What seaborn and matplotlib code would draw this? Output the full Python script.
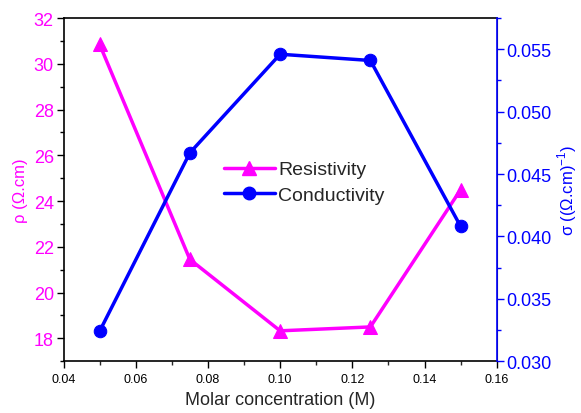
import numpy as np
import pandas as pd
import seaborn as sns
import matplotlib.pyplot as plt
from matplotlib.ticker import MultipleLocator
from matplotlib.lines import Line2D

molarity = [0.05, 0.075, 0.10, 0.125, 0.15]
resistivity = [30.85, 21.45, 18.33, 18.5, 24.5]
conductivity = [0.0324, 0.0467, 0.0546, 0.0541, 0.0408]

data = pd.DataFrame({'M': molarity, 'rho': resistivity, 'sigma': conductivity})

sns.set_style('ticks')
plt.rcParams['font.family'] = ['Liberation Sans', 'DejaVu Sans']
plt.rcParams['mathtext.fontset'] = 'custom'
plt.rcParams['mathtext.rm'] = 'Liberation Sans'

pink = '#ff00ff'
blue = '#0000ff'

fig = plt.figure(figsize=(5.81, 4.14), dpi=100)
ax = fig.add_axes([0.1093, 0.125, 0.7457, 0.829])
ax2 = ax.twinx()

sns.lineplot(data=data, x='M', y='rho', ax=ax, color=pink, marker='^',
             markersize=10, linewidth=2.5, markeredgecolor=pink)
sns.lineplot(data=data, x='M', y='sigma', ax=ax2, color=blue, marker='o',
             markersize=9, linewidth=2.5, markeredgecolor=blue)

ax.set_xlim(0.04, 0.16)
ax.set_ylim(17, 32)
ax2.set_ylim(0.030, 0.0575)

ax.xaxis.set_minor_locator(MultipleLocator(0.01))
ax.yaxis.set_major_locator(MultipleLocator(2))
ax.yaxis.set_minor_locator(MultipleLocator(1))
ax2.yaxis.set_minor_locator(MultipleLocator(0.0025))

ax.set_xticks([0.04, 0.06, 0.08, 0.10, 0.12, 0.14, 0.16])
ax.set_xticklabels(['0.04', '0.06', '0.08', '0.10', '0.12', '0.14', '0.16'])
ax2.set_yticks([0.030, 0.035, 0.040, 0.045, 0.050, 0.055])
ax2.set_yticklabels(['0.030', '0.035', '0.040', '0.045', '0.050', '0.055'])

ax.tick_params(axis='x', which='major', labelsize=9, length=5, width=1, colors='black', direction='out')
ax.tick_params(axis='x', which='minor', length=3, width=1, direction='out')
ax.tick_params(axis='y', which='major', labelsize=13, length=5, width=1, labelcolor=pink, color='black', direction='out', pad=2)
ax.tick_params(axis='y', which='minor', length=3, width=1, color='black', direction='out')
ax2.tick_params(axis='y', which='major', labelsize=13, length=5, width=1, labelcolor=blue, color=blue, direction='out', pad=2)
ax2.tick_params(axis='y', which='minor', length=3, width=1, color=blue, direction='out')

for s in ['left', 'bottom', 'top']:
    ax.spines[s].set_color('black')
    ax.spines[s].set_linewidth(1.2)
ax2.spines['right'].set_color(blue)
ax2.spines['right'].set_linewidth(1.2)
ax2.spines['left'].set_visible(False)
ax2.spines['top'].set_visible(False)
ax2.spines['bottom'].set_visible(False)

ax.set_xlabel('Molar concentration (M)', fontsize=13, labelpad=4)
ax.set_ylabel('ρ (Ω.cm)', fontsize=12, color=pink, labelpad=4)
ax2.set_ylabel('σ ((Ω.cm)$^{-1}$)', fontsize=12, color=blue, labelpad=3)

handles = [
    Line2D([], [], color=pink, marker='^', markersize=10, linewidth=2.5, label='Resistivity'),
    Line2D([], [], color=blue, marker='o', markersize=9, linewidth=2.5, label='Conductivity'),
]
ax2.legend(handles=handles, loc='upper left', bbox_to_anchor=(0.33, 0.635),
           frameon=False, fontsize=14, handlelength=2.6, handletextpad=0.2,
           labelspacing=0.4)

fig.savefig('out.png', dpi=100)
